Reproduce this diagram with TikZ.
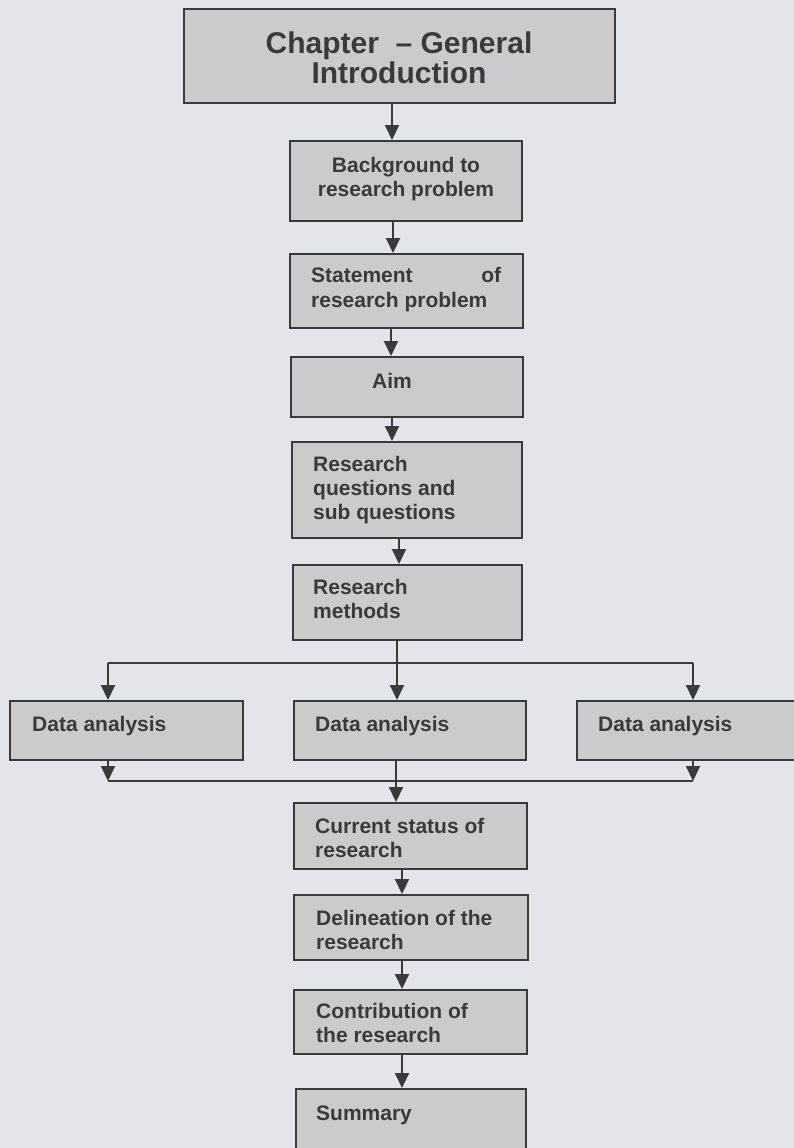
\documentclass[tikz,border=0pt]{standalone}
\usepackage{fontspec}
\setmainfont{Liberation Sans}
\usetikzlibrary{arrows.meta}

\definecolor{paper}{HTML}{E3E5EA}
\definecolor{boxfill}{HTML}{CBCBCD}
\definecolor{ink}{HTML}{3A3A3A}

% text block whose baseline is that of its first line
\newcommand{\boxlines}[2][220pt]{\parbox[t]{#1}{\raggedright #2}}
\newcommand{\boxcentre}[2][220pt]{\parbox[t]{#1}{\centering #2}}

\tikzset{
  stepbox/.style={draw=ink, line width=2.2pt, fill=boxfill, inner sep=0pt,
    anchor=north west},
  steptext/.style={anchor=base west, inner sep=0pt, text=ink,
    font=\bfseries\fontsize{21}{24}\selectfont},
  flow/.style={draw=ink, line width=2pt},
  arr/.style={flow, -{Triangle[length=15pt,width=14pt]}},
}

\begin{document}
\begin{tikzpicture}[x=1pt, y=-1pt]
  \fill[paper] (0,0) rectangle (794,1148);
  \useasboundingbox (0,0) rectangle (794,1148);

  % boxes
  \node[stepbox, minimum width=431pt, minimum height=94pt] (chap) at (183,8) {};
  \node[stepbox, minimum width=232pt, minimum height=80pt] (bg)   at (289,140) {};
  \node[stepbox, minimum width=233pt, minimum height=74pt] (stmt) at (289,253) {};
  \node[stepbox, minimum width=232pt, minimum height=60pt] (aim)  at (290,356) {};
  \node[stepbox, minimum width=230pt, minimum height=96pt] (rq)   at (291,441) {};
  \node[stepbox, minimum width=229pt, minimum height=75pt] (rm)   at (292,564) {};
  \node[stepbox, minimum width=233pt, minimum height=59pt] (da1)  at (9,700) {};
  \node[stepbox, minimum width=232pt, minimum height=59pt] (da2)  at (293,700) {};
  \node[stepbox, minimum width=260pt, minimum height=59pt] (da3)  at (576,700) {};
  \node[stepbox, minimum width=233pt, minimum height=66pt] (cs)   at (293,802) {};
  \node[stepbox, minimum width=234pt, minimum height=65pt] (del)  at (293,894) {};
  \node[stepbox, minimum width=233pt, minimum height=64pt] (con)  at (293,989) {};
  \node[stepbox, minimum width=230pt, minimum height=90pt] (sum)  at (295,1088) {};

  % box texts
  \node[steptext, anchor=base, font=\bfseries\fontsize{30}{30}\selectfont] (chapT) at (399,53)
    {\boxcentre[420pt]{Chapter\ \ – General\\Introduction}};
  \node[steptext, anchor=base] (bgT) at (406,172)
    {\boxcentre{Background to\\research problem}};
  \node[steptext, font=\bfseries\fontsize{21}{25}\selectfont] (stmtT) at (311,282)
    {\boxlines{\makebox[190pt][l]{Statement\hfill of}\\research problem}};
  \node[steptext] (aimT) at (372,388) {Aim};
  \node[steptext] (rqT) at (313,471) {\boxlines{Research\\questions and\\sub questions}};
  \node[steptext] (rmT) at (313,594) {\boxlines{Research\\methods}};
  \node[steptext] (da1T) at (32,731) {Data analysis};
  \node[steptext] (da2T) at (315,731) {Data analysis};
  \node[steptext] (da3T) at (598,731) {Data analysis};
  \node[steptext] (csT) at (315,833) {\boxlines{Current status of\\research}};
  \node[steptext] (delT) at (316,925) {\boxlines{Delineation of the\\research}};
  \node[steptext] (conT) at (316,1018) {\boxlines{Contribution of\\the research}};
  \node[steptext] (sumT) at (316,1120) {Summary};

  % main spine
  \draw[arr] (chap.south -| 392,0) -- (bg.north -| 392,0);
  \draw[arr] (bg.south -| 393,0) -- (stmt.north -| 393,0);
  \draw[arr] (stmt.south -| 391,0) -- (aim.north -| 391,0);
  \draw[arr] (aim.south -| 392,0) -- (rq.north -| 392,0);
  \draw[arr] (rq.south -| 399,0) -- (rm.north -| 399,0);

  % split into the three analyses
  \coordinate (sL) at (108,663);
  \coordinate (sM) at (397,663);
  \coordinate (sR) at (693,663);
  \draw[flow] (rm.south -| sM) -- (sM);
  \draw[flow] (sL) -- (sR);
  \draw[arr] (sL) -- (sL |- da1.north);
  \draw[arr] (sM) -- (sM |- da2.north);
  \draw[arr] (sR) -- (sR |- da3.north);

  % join below the analyses
  \coordinate (jL) at (108,781);
  \coordinate (jR) at (693,781);
  \draw[flow] (jL) -- (jR);
  \draw[arr] (da1.south -| jL) -- (jL);
  \draw[arr] (da3.south -| jR) -- (jR);
  \draw[arr] (da2.south -| 396,0) -- (cs.north -| 396,0);

  % lower spine
  \draw[arr] (cs.south -| 402,0) -- (del.north -| 402,0);
  \draw[arr] (del.south -| 402,0) -- (con.north -| 402,0);
  \draw[arr] (con.south -| 402,0) -- (sum.north -| 402,0);
\end{tikzpicture}
\end{document}
